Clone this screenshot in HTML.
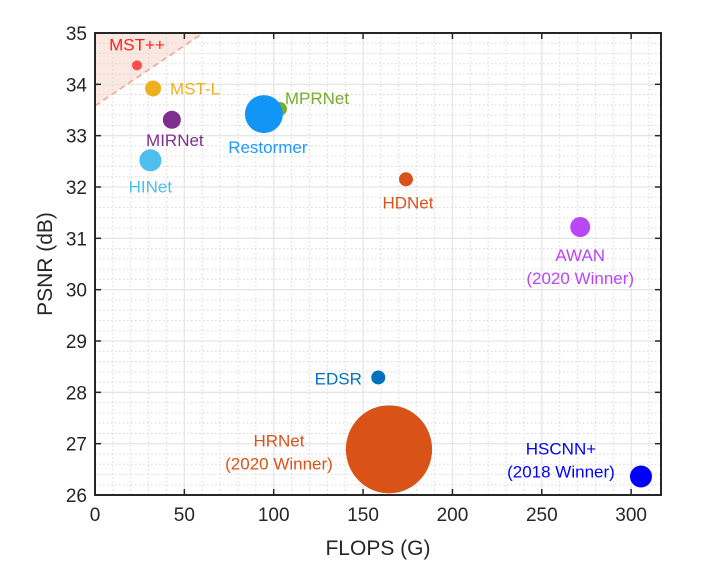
<!DOCTYPE html>
<html><head><meta charset="utf-8"><style>
html,body{margin:0;padding:0;background:#fff;}
svg{display:block;font-family:"Liberation Sans",sans-serif;}
</style></head><body>
<svg id="chart" width="717" height="576"></svg>
<script>
const models = ["MST++","MST-L","MIRNet","HINet","MPRNet","Restormer","HDNet","AWAN","EDSR","HRNet","HSCNN+"];
const flops = [23.5,32.5,43,31,103.5,94.5,174,271.5,158.5,164.5,305.5];
const psnr = [34.37,33.92,33.31,32.52,33.52,33.42,32.15,31.22,28.29,26.89,26.36];
const radii = [5,8,9,11,7,19,7,10,7,44,11];
const colors = ["#ff4d4d","#edb120","#7e2f8e","#4dbeee","#77ac30","#1296f5","#d95319","#b847f5","#0072bd","#d95319","#0000ff"];
const labels = [["MST++"],["MST-L"],["MIRNet"],["HINet"],["MPRNet"],["Restormer"],["HDNet"],["AWAN","(2020 Winner)"],["EDSR"],["HRNet","(2020 Winner)"],["HSCNN+","(2018 Winner)"]];
const labelColors = ["#ff2020","#edb120","#7e2f8e","#4dbeee","#77ac30","#1e9bff","#d95319","#b847f5","#0072bd","#d95319","#0000ff"];
const xTicks = [0,50,100,150,200,250,300];
const yTicks = [26,27,28,29,30,31,32,33,34,35];

const X0=95, X1=661, Y0=33, Y1=495, XMAX=316.7;
const xs = v => X0 + v*(X1-X0)/XMAX;
const ys = v => Y1 - (v-26)*(Y1-Y0)/9;
const lOff = [[0,-21],[42,0],[3,20],[0,26],[37,-11],[4,33],[2,23],[0,28],[-40,1],[-110,-9],[-80,-28]];

const NS="http://www.w3.org/2000/svg";
const svg=document.getElementById('chart');
function mk(t,a,p){const e=document.createElementNS(NS,t);for(const k in a)e.setAttribute(k,a[k]);(p||svg).appendChild(e);return e;}

const defs=mk('defs',{});
const cp=mk('clipPath',{id:'pc'},defs);mk('rect',{x:X0,y:Y0,width:X1-X0,height:Y1-Y0},cp);

const sh=mk('polygon',{points:`${xs(0)},${ys(35)} ${xs(60.5)},${ys(35)} ${xs(0)},${ys(33.58)}`,fill:'#fbe8e1'});



for(let v=10;v<XMAX;v+=10){if(v%50)mk('line',{x1:xs(v),x2:xs(v),y1:Y0,y2:Y1,stroke:'#d8d8d8','stroke-dasharray':'1.5 2.5','stroke-width':1});}
for(let v=26.2;v<35;v+=0.2){if(Math.abs(v-Math.round(v))>0.01)mk('line',{x1:X0,x2:X1,y1:ys(v),y2:ys(v),stroke:'#d8d8d8','stroke-dasharray':'1.5 2.5','stroke-width':1});}
xTicks.forEach(v=>{const l=mk('line',{x1:xs(v),x2:xs(v),y1:Y0,y2:Y1,stroke:'#e6e6e6','stroke-width':1.3});});
yTicks.forEach(v=>{const l=mk('line',{x1:X0,x2:X1,y1:ys(v),y2:ys(v),stroke:'#e6e6e6','stroke-width':1.3});});

const dl=mk('line',{x1:xs(0),y1:ys(33.58),x2:xs(60.5),y2:ys(35),stroke:'#f4a090','stroke-width':1.5,'stroke-dasharray':'6 4'});



const g=mk('g',{'clip-path':'url(#pc)'});
models.forEach((m,i)=>{
  const cx=xs(flops[i]),cy=ys(psnr[i]);
  const c=mk('ellipse',{cx:cx,cy:cy,rx:radii[i]*(i===9?0.98:1),ry:radii[i],fill:colors[i]},g);
  
  
});
models.forEach((m,i)=>{
  const cx=xs(flops[i]),cy=ys(psnr[i]);
  labels[i].forEach((s,j)=>{
    const t=mk('text',{x:cx+lOff[i][0],y:cy+lOff[i][1]+j*23+6,'text-anchor':'middle','font-size':17,fill:labelColors[i]});
    t.textContent=s;
    
    
  });
});

const box=mk('rect',{x:X0,y:Y0,width:X1-X0,height:Y1-Y0,fill:'none',stroke:'#262626','stroke-width':2});


xTicks.forEach(v=>{
  mk('line',{x1:xs(v),x2:xs(v),y1:Y1,y2:Y1-6,stroke:'#262626','stroke-width':1.5});
  mk('line',{x1:xs(v),x2:xs(v),y1:Y0,y2:Y0+6,stroke:'#262626','stroke-width':1.5});
  const t=mk('text',{x:xs(v),y:Y1+26,'text-anchor':'middle','font-size':19,fill:'#262626'});t.textContent=v;
  
  
});
yTicks.forEach(v=>{
  mk('line',{x1:X0,x2:X0+6,y1:ys(v),y2:ys(v),stroke:'#262626','stroke-width':1.5});
  mk('line',{x1:X1,x2:X1-6,y1:ys(v),y2:ys(v),stroke:'#262626','stroke-width':1.5});
  const t=mk('text',{x:X0-8,y:ys(v)+7,'text-anchor':'end','font-size':19,fill:'#262626'});t.textContent=v;
  
  
});
const xt=mk('text',{x:378,y:555,'text-anchor':'middle','font-size':21,fill:'#262626'});xt.textContent='FLOPS (G)';


const yt=mk('text',{x:0,y:0,'text-anchor':'middle','font-size':21,fill:'#262626',transform:'translate(52,264) rotate(-90)'});yt.textContent='PSNR (dB)';


</script>
</body></html>
